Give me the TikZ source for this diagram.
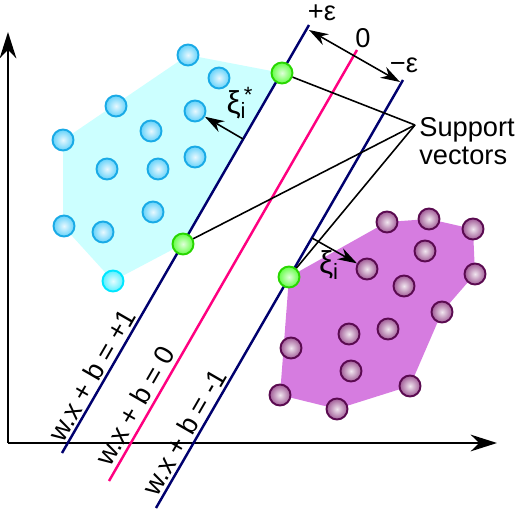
\documentclass[tikz,border=0pt]{standalone}
\usepackage{fontspec}
\setmainfont{Liberation Sans}
\usetikzlibrary{arrows.meta}
\definecolor{svmNavy}{RGB}{0,0,110}
\definecolor{svmPink}{RGB}{255,0,128}
\definecolor{svmCyanFill}{RGB}{204,255,255}
\definecolor{svmCyanEdge}{RGB}{25,170,230}
\definecolor{svmCyanBall}{RGB}{100,210,250}
\definecolor{svmAquaEdge}{RGB}{0,230,255}
\definecolor{svmAquaBall}{RGB}{90,240,255}
\definecolor{svmGreenEdge}{RGB}{40,215,0}
\definecolor{svmGreenBall}{RGB}{100,255,70}
\definecolor{svmPlumFill}{RGB}{214,124,224}
\definecolor{svmPlumEdge}{RGB}{90,10,80}
\definecolor{svmPlumBall}{RGB}{160,90,150}
\begin{document}
\begin{tikzpicture}[x=0.02cm,y=-0.02cm,
    ball/.style={circle,inner sep=0pt,minimum size=0.42cm,line width=1.1pt},
    cyanball/.style={ball,draw=svmCyanEdge,inner color=white!85!svmCyanBall,outer color=svmCyanBall},
    aquaball/.style={ball,draw=svmAquaEdge,inner color=white!85!svmAquaBall,outer color=svmAquaBall},
    greenball/.style={ball,draw=svmGreenEdge,inner color=white!80!svmGreenBall,outer color=svmGreenBall},
    plumball/.style={ball,draw=svmPlumEdge,inner color=white!85!svmPlumBall,outer color=svmPlumBall},
    lbl/.style={font=\fontsize{15.5}{16}\selectfont,inner sep=0pt},
    xilbl/.style={font=\fontsize{18}{18}\selectfont,inner sep=0pt},
    hyper/.style={line width=1.4pt,svmNavy},
    pointer/.style={line width=0.9pt,black},
    tip/.style={line width=0.9pt,-{Stealth[length=11pt,width=7pt]}},
    axis/.style={line width=1.1pt,-{Stealth[length=15pt,width=9.5pt]}}]
      \useasboundingbox (0,0) rectangle (520,510);
      \fill[svmCyanFill] (188,55) -- (282,73) -- (183,244) -- (113,281) -- (63,226) -- (63,140) -- cycle;
      \fill[svmPlumFill] (289,277) -- (387,222) -- (429,219) -- (473,229) -- (475,274) -- (442,312) -- (410,386) -- (337,409) -- (280,395) -- cycle;
      \coordinate (origin) at (8,443);
      \draw[axis] (origin) -- (8,32);
      \draw[axis] (origin) -- (497,443);
      \coordinate (plusA) at (62,453);
      \coordinate (plusB) at (309,25);
      \coordinate (zeroA) at (109,481);
      \coordinate (zeroB) at (357,50);
      \coordinate (minusA) at (156,508);
      \coordinate (minusB) at (403,80);
      \draw[hyper] (plusA) -- (plusB);
      \draw[line width=1.4pt,svmPink] (zeroA) -- (zeroB);
      \draw[hyper] (minusA) -- (minusB);
      \coordinate (epsA) at (309,30);
      \coordinate (epsB) at (400,82);
      \draw[line width=0.9pt,{Stealth[length=11pt,width=7pt]}-{Stealth[length=11pt,width=7pt]}] (epsA) -- (epsB);
      \node[cyanball] (cyan1) at (188,55) {};
      \node[cyanball] (cyan2) at (219,78) {};
      \node[cyanball] (cyan3) at (116,106) {};
      \node[cyanball] (cyan4) at (195,111) {};
      \node[cyanball] (cyan5) at (63,140) {};
      \node[cyanball] (cyan6) at (151,131) {};
      \node[cyanball] (cyan7) at (107,169) {};
      \node[cyanball] (cyan8) at (158,169) {};
      \node[cyanball] (cyan9) at (195,157) {};
      \node[cyanball] (cyan10) at (153,212) {};
      \node[cyanball] (cyan11) at (64,226) {};
      \node[cyanball] (cyan12) at (103,232) {};
      \node[aquaball] (cyan13) at (113,281) {};
      \node[plumball] (plum1) at (387,222) {};
      \node[plumball] (plum2) at (429,219) {};
      \node[plumball] (plum3) at (473,229) {};
      \node[plumball] (plum4) at (425,251) {};
      \node[plumball] (plum5) at (367,269) {};
      \node[plumball] (plum6) at (404,286) {};
      \node[plumball] (plum7) at (475,274) {};
      \node[plumball] (plum8) at (442,312) {};
      \node[plumball] (plum9) at (388,329) {};
      \node[plumball] (plum10) at (349,334) {};
      \node[plumball] (plum11) at (291,348) {};
      \node[plumball] (plum12) at (351,371) {};
      \node[plumball] (plum13) at (410,386) {};
      \node[plumball] (plum14) at (280,395) {};
      \node[plumball] (plum15) at (337,409) {};
      \coordinate (hub) at (415,125);
      \node[greenball] (sv1) at (282,73) {};
      \node[greenball] (sv2) at (183,244) {};
      \node[greenball] (sv3) at (289,277) {};
      \draw[pointer] (hub) -- (sv1);
      \draw[pointer] (hub) -- (sv2);
      \draw[pointer] (hub) -- (sv3);
      \coordinate (xiStar) at (243,139);
      \draw[tip] (xiStar) -- (cyan4);
      \coordinate (xiPlain) at (312,238);
      \draw[tip] (xiPlain) -- (plum5);
      \node[lbl,anchor=west,align=left] (svtext) at (419,141) {Support\\vectors};
      \node[lbl] (epsPlus) at (322,13) {+ε};
      \node[lbl] (epsZero) at (363,38) {0};
      \node[lbl] (epsMinus) at (404,65) {−ε};
      \node[xilbl] (xiStarText) at (240,103) {ξ\rlap{\textsubscript{i}}\textsuperscript{\hspace{0.15em}*}};
      \node[xilbl] (xiText) at (329,265) {ξ\textsubscript{i}};
      \node[lbl,rotate=60] (planeP) at (92,375) {w.x + b = +1};
      \node[lbl,rotate=60] (planeZ) at (135,406) {w.x + b = 0};
      \node[lbl,rotate=60] (planeM) at (184,432) {w.x + b = -1};
    \end{tikzpicture}
\end{document}
